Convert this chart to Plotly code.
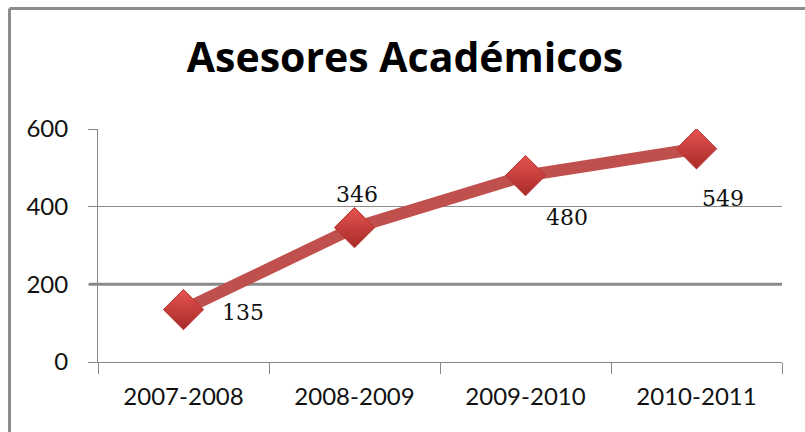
import plotly.graph_objects as go

categories = ["2007-2008", "2008-2009", "2009-2010", "2010-2011"]
asesores = [135, 346, 480, 549]
y_ticks = [0, 200, 400, 600]
title_text = "Asesores Académicos"
banner_text = "UNIVERSIDAD DE CÓRDOBA · UNIVERSIDAD DE CÓRDOBA · UNIVERSIDAD"

# label offsets (pixels) relative to each point
label_dx = [59, 2, 41, 26]
label_dy = [-3, 33, -42, -50]

fig = go.Figure()
fig.add_trace(go.Scatter(
    x=categories, y=asesores, mode="lines+markers",
    line=dict(color="#C0504D", width=12),
    marker=dict(symbol="diamond", size=31, color="#E5534F",
                gradient=dict(type="vertical", color="#A82B29"),
                line=dict(color="#B73532", width=1)),
    hoverinfo="skip", showlegend=False,
))

for c, v, dx, dy in zip(categories, asesores, label_dx, label_dy):
    fig.add_annotation(x=c, y=v, xref="x", yref="y", text=str(v), showarrow=False,
                       xshift=dx, yshift=dy,
                       font=dict(family="DejaVu Serif", size=22, color="#111"))

# thicker reference line at 200
fig.add_shape(type="line", xref="paper", yref="y", x0=-9/684, x1=1, y0=y_ticks[1], y1=y_ticks[1],
              line=dict(color="#8A8A8A", width=3), layer="below")

# outer chart frame (left and top edges visible)
fig.add_shape(type="line", xref="paper", yref="paper", x0=-88.5/684, x1=-88.5/684,
              y0=-0.5, y1=(362-8.5)/233, line=dict(color="#8C8C8C", width=3))
fig.add_shape(type="line", xref="paper", yref="paper", x0=-88.5/684, x1=1.2,
              y0=(362-8.5)/233, y1=(362-8.5)/233, line=dict(color="#8C8C8C", width=3))

fig.add_annotation(xref="paper", yref="paper", x=(20-98)/684, y=(362-7)/233,
                   xanchor="left", yanchor="bottom", showarrow=False, text=banner_text,
                   font=dict(family="Liberation Sans", size=33, color="#FCE8BC", weight="bold"))

fig.update_layout(
    width=805, height=432,
    margin=dict(l=98, r=23, t=129, b=70, autoexpand=False),
    paper_bgcolor="white", plot_bgcolor="white",
    title=dict(text=title_text, x=405/805, xanchor="center", y=1-58/432, yanchor="middle",
               xref="container", yref="container", automargin=False,
               font=dict(family="Open Sans", size=41, color="#000", weight="bold")),
    font=dict(family="Lato", color="#000"),
)
fig.update_xaxes(type="category", range=[-0.5, 3.5], tickson="boundaries", automargin=False,
                 ticks="outside", ticklen=11, tickcolor="#888", tickwidth=1,
                 showline=True, linecolor="#888", linewidth=1, showgrid=False,
                 tickfont=dict(family="Lato", size=24, color="#111"), ticklabelstandoff=13)
fig.update_yaxes(range=[0, 600], tickvals=y_ticks, ticks="outside", ticklen=9, automargin=False,
                 tickcolor="#888", tickwidth=1, showline=True, linecolor="#888", linewidth=1,
                 showgrid=True, gridcolor="#8C8C8C", gridwidth=1, zeroline=False,
                 tickfont=dict(family="Lato", size=24, color="#111"), ticklabelstandoff=15)

fig.write_html("out.html", config={"displayModeBar": False},
               post_script="document.body.style.margin='0px';document.body.style.overflow='hidden';")
